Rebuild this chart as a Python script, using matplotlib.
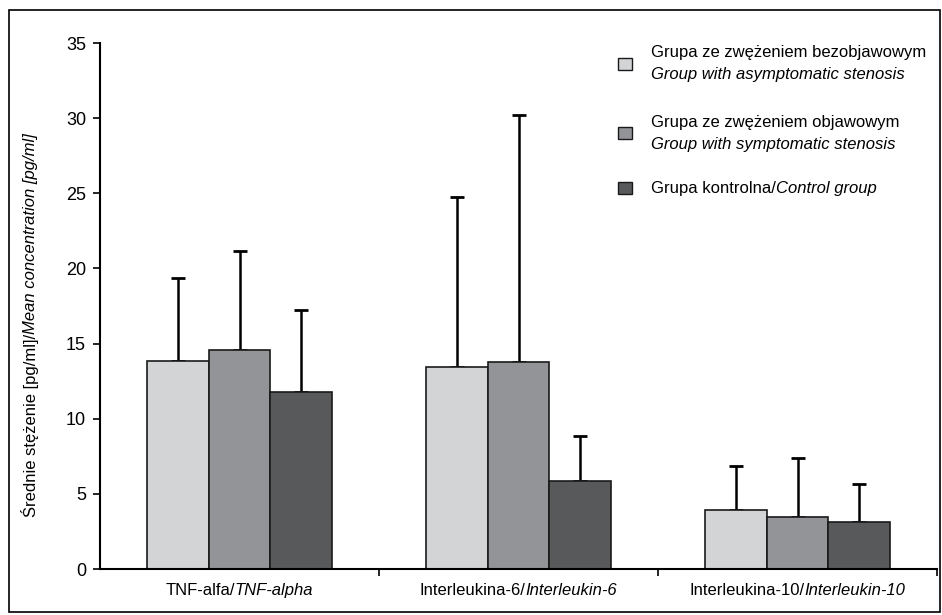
import numpy as np
import matplotlib
matplotlib.use("Agg")
import matplotlib.pyplot as plt
from matplotlib.patches import Rectangle
from matplotlib.transforms import offset_copy

plt.rcParams['font.family'] = ['Liberation Sans Narrow', 'Liberation Sans', 'DejaVu Sans']

cat_plain = ['TNF-alfa/', 'Interleukina-6/', 'Interleukina-10/']
cat_italic = ['TNF-alpha', 'Interleukin-6', 'Interleukin-10']

group_pl = ['Grupa ze zwężeniem bezobjawowym', 'Grupa ze zwężeniem objawowym', 'Grupa kontrolna/']
group_en = ['Group with asymptomatic stenosis', 'Group with symptomatic stenosis', 'Control group']

means = [
    [13.87, 13.43, 3.93],   # asymptomatic
    [14.58, 13.80, 3.48],   # symptomatic
    [11.78, 5.86, 3.15],    # control
]
upper = [
    [19.39, 24.75, 6.86],
    [21.13, 30.20, 7.41],
    [17.22, 8.86, 5.64],
]
colors = ['#d3d4d6', '#939498', '#58595b']

W, H = 942, 615
fig = plt.figure(figsize=(W / 100, H / 100), dpi=100)
ax = fig.add_axes([100 / W, (H - 569) / H, (937 - 100) / W, (569 - 43) / H])

x = np.arange(len(cat_plain))
bw = 0.222
for i in range(3):
    pos = x + (i - 1) * bw
    m = np.array(means[i])
    err = np.array(upper[i]) - m
    ax.bar(pos, m, bw, color=colors[i], edgecolor='#1a1a1a', linewidth=1.2, zorder=2)
    ax.errorbar(pos, m, yerr=[np.zeros_like(m), err], fmt='none', ecolor='black',
                elinewidth=1.8, capsize=5, capthick=2, zorder=1)

ax.set_xlim(-0.5, 2.5)
ax.set_ylim(0, 35)
ax.set_yticks(np.arange(0, 36, 5))
ax.tick_params(axis='y', labelsize=13, length=5, width=1.2, direction='out', pad=5)
ax.set_xticks([0.5, 1.5, 2.5])
ax.set_xticklabels([])
ax.tick_params(axis='x', length=5, width=1.2, direction='out')
for s in ['top', 'right']:
    ax.spines[s].set_visible(False)
for s in ['left', 'bottom']:
    ax.spines[s].set_linewidth(1.5)

# figure frame
fig.patches.append(Rectangle((9 / W, 3 / H), 931 / W, (H - 13) / H, transform=fig.transFigure,
                             fill=False, edgecolor='black', linewidth=1.2))

renderer = fig.canvas.get_renderer()
fs = 12

# x category labels: plain + italic parts
for k in range(3):
    t1 = ax.text(0, 0, cat_plain[k], fontsize=fs)
    t2 = ax.text(0, 0, cat_italic[k], fontsize=fs, style='italic')
    w1 = t1.get_window_extent(renderer).width
    w2 = t2.get_window_extent(renderer).width
    t1.remove()
    t2.remove()
    base = ax.get_xaxis_transform()
    tot = w1 + w2
    ax.text(k, -0.04, cat_plain[k], fontsize=fs, ha='left', va='center',
            transform=offset_copy(base, fig=fig, x=-tot / 2, units='dots'))
    ax.text(k, -0.04, cat_italic[k], fontsize=fs, style='italic', ha='left', va='center',
            transform=offset_copy(base, fig=fig, x=-tot / 2 + w1, units='dots'))

# y label: plain + italic parts, rotated
yl_plain = 'Średnie stężenie [pg/ml]/'
yl_italic = 'Mean concentration [pg/ml]'
t1 = fig.text(0, 0, yl_plain, fontsize=fs)
t2 = fig.text(0, 0, yl_italic, fontsize=fs, style='italic')
w1 = t1.get_window_extent(renderer).width
w2 = t2.get_window_extent(renderer).width
t1.remove()
t2.remove()
tot = w1 + w2
yc = 1 - 325 / H
xc = 30 / W
fig.text(xc, yc, yl_plain, fontsize=fs, rotation=90, rotation_mode='anchor', ha='left', va='center',
         transform=offset_copy(fig.transFigure, fig=fig, y=-tot / 2, units='dots'))
fig.text(xc, yc, yl_italic, fontsize=fs, style='italic', rotation=90, rotation_mode='anchor',
         ha='left', va='center',
         transform=offset_copy(fig.transFigure, fig=fig, y=-tot / 2 + w1, units='dots'))

# legend drawn by hand
sq_y = [64, 133, 188]
for i in range(3):
    yc_px = sq_y[i]
    fig.patches.append(Rectangle((618 / W, 1 - (yc_px + 6) / H), 14 / W, 12 / H,
                                 transform=fig.transFigure, facecolor=colors[i],
                                 edgecolor='#1a1a1a', linewidth=1.0))
    if i < 2:
        fig.text(651 / W, 1 - (yc_px - 11) / H, group_pl[i], fontsize=fs, va='center')
        fig.text(651 / W, 1 - (yc_px + 11) / H, group_en[i], fontsize=fs, style='italic', va='center')
    else:
        t1 = fig.text(651 / W, 1 - yc_px / H, group_pl[i], fontsize=fs, va='center')
        w1 = t1.get_window_extent(renderer).width
        fig.text(651 / W, 1 - yc_px / H, group_en[i], fontsize=fs, style='italic', va='center',
                 transform=offset_copy(fig.transFigure, fig=fig, x=w1, units='dots'))

fig.savefig('out.png', dpi=100)
